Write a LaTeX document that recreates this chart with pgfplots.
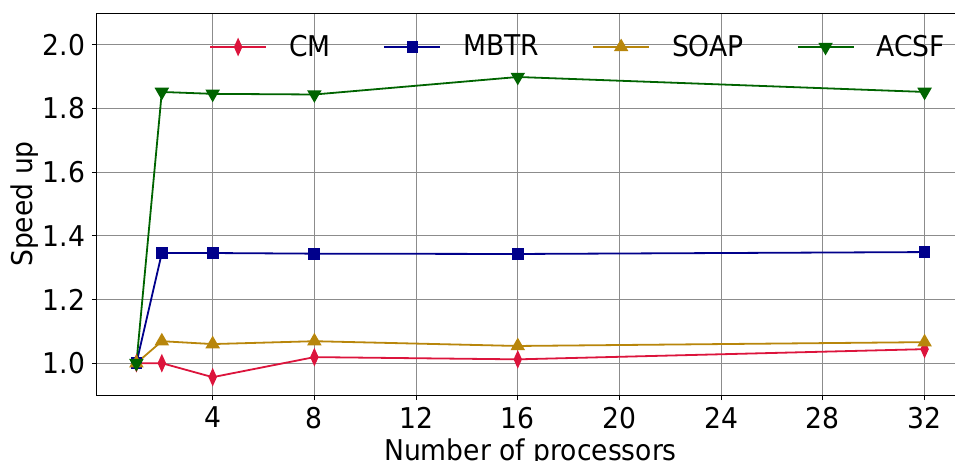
\documentclass[border=0pt]{standalone}
\usepackage{fontspec}
\setmainfont{DejaVu Sans}[FakeStretch=0.93]
\usepackage{pgfplots}
\pgfplotsset{compat=1.18}
\definecolor{cmcol}{RGB}{220,20,60}
\definecolor{mbtrcol}{RGB}{0,0,139}
\definecolor{soapcol}{RGB}{184,134,11}
\definecolor{acsfcol}{RGB}{0,100,0}
\newcommand{\bigf}{\fontsize{14.3}{17}\selectfont}
\begin{document}
\begin{tikzpicture}
\useasboundingbox (-48.5pt,-33pt) rectangle (429pt,197.5pt);
\clip (-48.5pt,-33pt) rectangle (429pt,197.5pt);
\begin{axis}[
  at={(0,0)}, anchor=south west,
  scale only axis, width=433.5pt, height=191pt,
  xmin=-0.55, xmax=33.55, ymin=0.9, ymax=2.1,
  xtick={4,8,12,16,20,24,28,32},
  ytick={1.0,1.2,1.4,1.6,1.8,2.0},
  /pgf/number format/assume math mode=true,
  yticklabel style={/pgf/number format/.cd, fixed, fixed zerofill, precision=1},
  tick label style={font=\bigf},
  label style={font=\bigf},
  xlabel={Number of processors},
  ylabel={Speed up},
  tick align=outside, tick pos=left,
  major tick length=2.5pt,
  xticklabel style={yshift=0pt},
  xlabel style={yshift=2pt},
  ylabel style={yshift=-5pt},
  grid=major,
  major grid style={gray!90, line width=0.5pt},
  axis line style={line width=0.5pt},
  every tick/.style={black, line width=0.5pt},
  legend columns=4,
  legend style={draw=none, fill=none, font=\bigf, at={(rel axis cs:0.99,0.911)}, anchor=east,
    /tikz/every odd column/.append style={column sep=9pt},
    /tikz/every even column/.append style={column sep=24.5pt}},
  legend image code/.code={\draw[#1] (0pt,0pt) -- (28pt,0pt); \draw[#1, solid] plot[only marks] coordinates {(14pt,0pt)};},
  legend cell align=left,
]
\addplot[cmcol, line width=0.9pt, mark=diamond*, mark size=3.6pt, mark options={xscale=0.6}] coordinates {(1,1.0) (2,1.0) (4,0.956) (8,1.019) (16,1.012) (32,1.044)};
\addlegendentry{CM}
\addplot[mbtrcol, line width=0.9pt, mark=square*, mark size=2.5pt] coordinates {(1,1.0) (2,1.346) (4,1.346) (8,1.344) (16,1.343) (32,1.349)};
\addlegendentry{MBTR}
\addplot[soapcol, line width=0.9pt, mark=triangle*, mark size=3.3pt] coordinates {(1,1.0) (2,1.069) (4,1.060) (8,1.069) (16,1.054) (32,1.066)};
\addlegendentry{SOAP}
\addplot[acsfcol, line width=0.9pt, mark=triangle*, mark size=3.3pt, mark options={rotate=180}] coordinates {(1,1.0) (2,1.852) (4,1.846) (8,1.844) (16,1.899) (32,1.852)};
\addlegendentry{ACSF}
\end{axis}
\end{tikzpicture}
\end{document}
